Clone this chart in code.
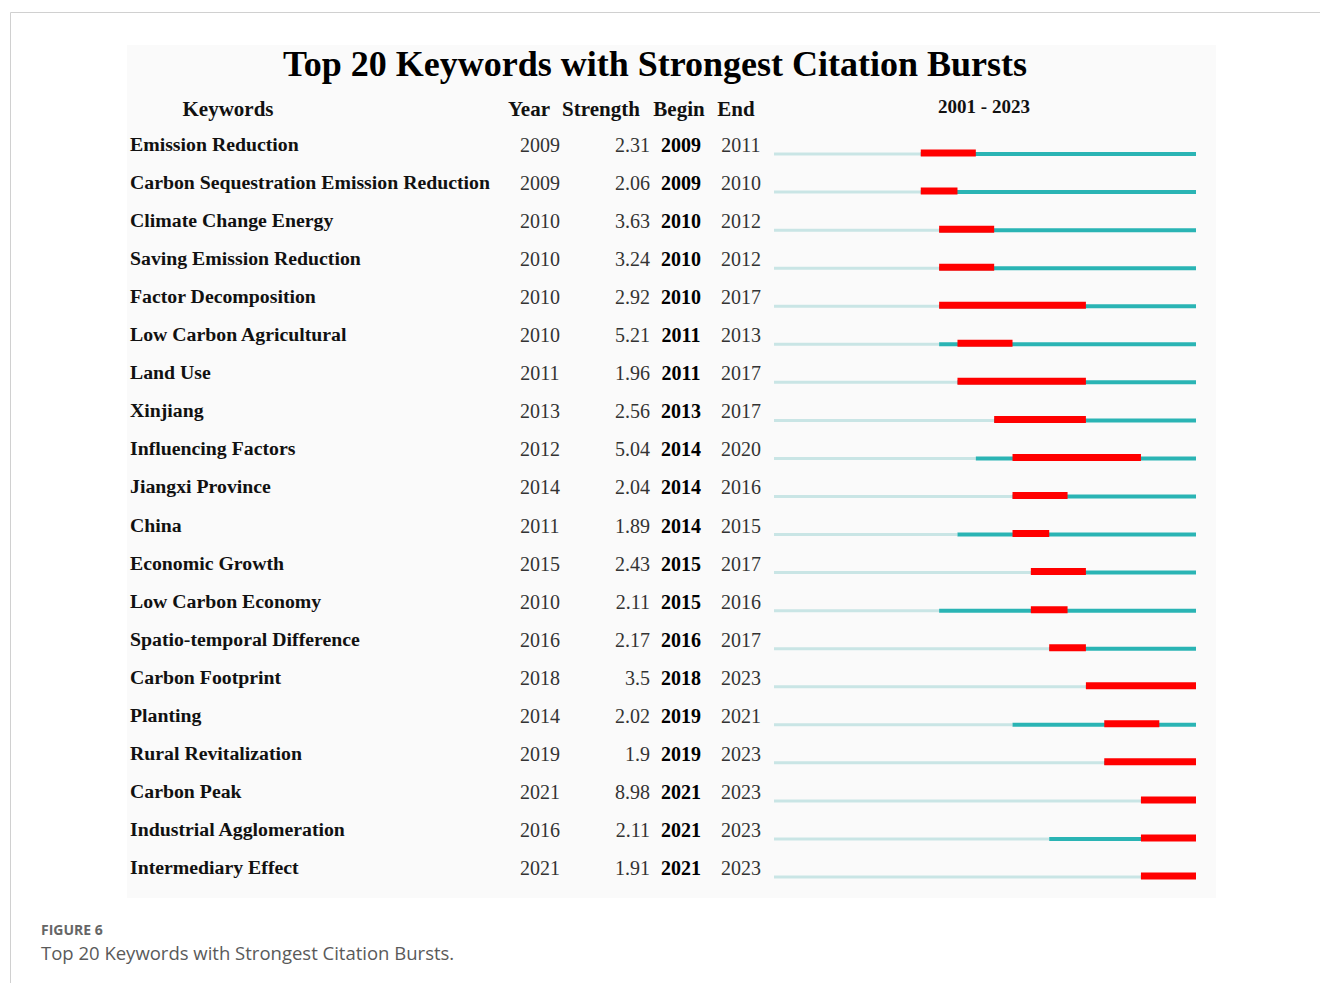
<!DOCTYPE html>
<html>
<head>
<meta charset="utf-8">
<script src="https://cdn.jsdelivr.net/npm/d3@7"></script>
<style>
  body { margin: 0; background: #fff; }
  svg { display: block; }
  .serif { font-family: "Liberation Serif", "Times New Roman", serif; }
  .caption { font-family: "Open Sans", "Noto Sans", sans-serif; }
</style>
</head>
<body>
<svg id="chart"></svg>
<script>
// data
const keywords = [
  "Emission Reduction",
  "Carbon Sequestration Emission Reduction",
  "Climate Change Energy",
  "Saving Emission Reduction",
  "Factor Decomposition",
  "Low Carbon Agricultural",
  "Land Use",
  "Xinjiang",
  "Influencing Factors",
  "Jiangxi Province",
  "China",
  "Economic Growth",
  "Low Carbon Economy",
  "Spatio-temporal Difference",
  "Carbon Footprint",
  "Planting",
  "Rural Revitalization",
  "Carbon Peak",
  "Industrial Agglomeration",
  "Intermediary Effect",
];
const years = [2009, 2009, 2010, 2010, 2010, 2010, 2011, 2013, 2012, 2014,
  2011, 2015, 2010, 2016, 2018, 2014, 2019, 2021, 2016, 2021];
const strengths = [2.31, 2.06, 3.63, 3.24, 2.92, 5.21, 1.96, 2.56, 5.04, 2.04,
  1.89, 2.43, 2.11, 2.17, 3.5, 2.02, 1.9, 8.98, 2.11, 1.91];
const begins = [2009, 2009, 2010, 2010, 2010, 2011, 2011, 2013, 2014, 2014,
  2014, 2015, 2015, 2016, 2018, 2019, 2019, 2021, 2021, 2021];
const ends = [2011, 2010, 2012, 2012, 2017, 2013, 2017, 2017, 2020, 2016,
  2015, 2017, 2016, 2017, 2023, 2021, 2023, 2023, 2023, 2023];
const columnHeads = ["Year", "Strength", "Begin", "End"];
const firstYear = 2001;
const lastYear = 2023;
const title = "Top 20 Keywords with Strongest Citation Bursts";
const figureLabel = "FIGURE 6";
const figureCaption = "Top 20 Keywords with Strongest Citation Bursts.";

const rows = keywords.map((k, i) => ({
  keyword: k,
  year: years[i],
  strength: strengths[i],
  begin: begins[i],
  end: ends[i],
}));

const width = 1320;
const height = 983;
const panel = { x: 127, y: 45, w: 1089, h: 853 };

// row positions and timeline scale
const yScale = d3
  .scaleBand()
  .domain(d3.range(rows.length))
  .range([135, 896]);
const lineY = (i) => yScale(i) + yScale.bandwidth() / 2;
const xTime = d3
  .scaleLinear()
  .domain([firstYear, lastYear + 1])
  .range([774, 1196]);

const svg = d3
  .select("#chart")
  .attr("width", width)
  .attr("height", height)
  .attr("viewBox", `0 0 ${width} ${height}`);

// page frame (top + left rule)
svg
  .append("path")
  .attr("d", `M10.5,${height} V12.5 H${width}`)
  .attr("fill", "none")
  .attr("stroke", "#d0d0d0")
  .attr("stroke-width", 1);

// image panel
svg
  .append("rect")
  .attr("x", panel.x)
  .attr("y", panel.y)
  .attr("width", panel.w)
  .attr("height", panel.h)
  .attr("fill", "#fafafa");

svg
  .append("text")
  .attr("class", "serif")
  .attr("x", 655)
  .attr("y", 76)
  .attr("text-anchor", "middle")
  .attr("font-size", 36)
  .attr("font-weight", "bold")
  .attr("fill", "#000")
  .text(title);

// header row
const header = svg
  .append("g")
  .attr("class", "serif")
  .attr("font-weight", "bold")
  .attr("font-size", 21)
  .attr("fill", "#111");

header
  .append("text")
  .attr("x", 228)
  .attr("y", 116)
  .attr("text-anchor", "middle")
  .text("Keywords");

const headX = [529, 601, 679, 736];
header
  .selectAll("text.col")
  .data(columnHeads)
  .enter()
  .append("text")
  .attr("class", "col")
  .attr("x", (d, i) => headX[i])
  .attr("y", 116)
  .attr("text-anchor", "middle")
  .text((d) => d);

header
  .append("text")
  .attr("x", (xTime(firstYear) + xTime(lastYear + 1)) / 2 - 1)
  .attr("y", 113)
  .attr("text-anchor", "middle")
  .attr("font-size", 19)
  .text(`${firstYear} - ${lastYear}`);

// table rows
const row = svg
  .append("g")
  .attr("class", "serif")
  .selectAll("g")
  .data(rows)
  .enter()
  .append("g")
  .attr("transform", (d, i) => `translate(0, ${lineY(i)})`);

row
  .append("text")
  .attr("x", 130)
  .attr("y", -3)
  .attr("font-size", 19.8)
  .attr("font-weight", "bold")
  .attr("fill", "#111")
  .text((d) => d.keyword);

row
  .append("text")
  .attr("x", 540)
  .attr("y", -2)
  .attr("text-anchor", "middle")
  .attr("font-size", 20)
  .attr("fill", "#333")
  .text((d) => d.year);

row
  .append("text")
  .attr("x", 650)
  .attr("y", -2)
  .attr("text-anchor", "end")
  .attr("font-size", 20)
  .attr("fill", "#333")
  .text((d) => d.strength);

row
  .append("text")
  .attr("x", 681)
  .attr("y", -2)
  .attr("text-anchor", "middle")
  .attr("font-size", 20)
  .attr("font-weight", "bold")
  .attr("fill", "#000")
  .text((d) => d.begin);

row
  .append("text")
  .attr("x", 741)
  .attr("y", -2)
  .attr("text-anchor", "middle")
  .attr("font-size", 20)
  .attr("fill", "#333")
  .text((d) => d.end);

// timeline: light before first appearance, teal after, red burst
row
  .append("line")
  .attr("x1", xTime(firstYear))
  .attr("x2", (d) => xTime(d.year))
  .attr("stroke", "#c9e5e5")
  .attr("stroke-width", 3);

row
  .append("line")
  .attr("x1", (d) => xTime(d.year))
  .attr("x2", xTime(lastYear + 1))
  .attr("stroke", "#2ab4b4")
  .attr("stroke-width", 4);

row
  .append("line")
  .attr("x1", (d) => xTime(d.begin))
  .attr("x2", (d) => xTime(d.end + 1))
  .attr("y1", -1)
  .attr("y2", -1)
  .attr("stroke", "#ff0000")
  .attr("stroke-width", 7);

// figure caption
svg
  .append("text")
  .attr("class", "caption")
  .attr("x", 41)
  .attr("y", 935)
  .attr("font-size", 14)
  .attr("font-weight", "bold")
  .attr("fill", "#666")
  .text(figureLabel);

svg
  .append("text")
  .attr("class", "caption")
  .attr("x", 41)
  .attr("y", 960)
  .attr("font-size", 18.5)
  .attr("fill", "#5a5a5a")
  .text(figureCaption);
</script>
</body>
</html>
